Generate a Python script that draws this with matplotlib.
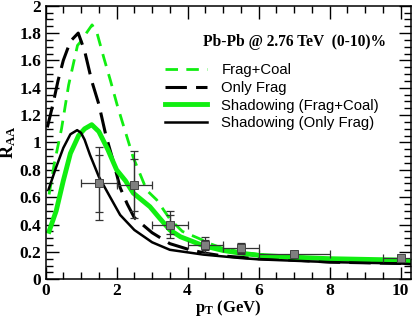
import numpy as np
import matplotlib
matplotlib.use('Agg')
import matplotlib.pyplot as plt
from matplotlib.ticker import MultipleLocator

plt.rcParams['font.family'] = 'Liberation Serif'
plt.rcParams['mathtext.fontset'] = 'custom'
plt.rcParams['mathtext.rm'] = 'Liberation Serif:bold'
plt.rcParams['mathtext.it'] = 'Liberation Serif:bold'
plt.rcParams['mathtext.bf'] = 'Liberation Serif:bold'

# model curves
fc_x = [0.1, 0.25, 0.45, 0.65, 0.9, 1.0, 1.15, 1.31, 1.45, 1.64, 1.83, 2.01, 2.15, 2.47, 2.85, 3.13, 3.5, 3.85, 4.3, 4.63, 5.0, 5.5, 6.0, 7.0, 8.0, 9.0, 10.0, 10.3]
fc_y = [0.62, 0.85, 1.10, 1.42, 1.71, 1.74, 1.80, 1.86, 1.80, 1.62, 1.45, 1.28, 1.16, 0.89, 0.65, 0.58, 0.44, 0.35, 0.30, 0.26, 0.225, 0.20, 0.18, 0.165, 0.15, 0.145, 0.14, 0.135]

of_x = [0.05, 0.2, 0.35, 0.5, 0.7, 0.92, 1.1, 1.3, 1.5, 1.7, 1.9, 2.1, 2.3, 2.5, 3.0, 3.5, 4.0, 4.5, 5.0, 6.0, 7.0, 8.0, 9.0, 10.0, 10.3]
of_y = [1.11, 1.27, 1.45, 1.60, 1.74, 1.80, 1.67, 1.45, 1.28, 1.05, 0.87, 0.67, 0.55, 0.45, 0.34, 0.26, 0.22, 0.19, 0.17, 0.15, 0.14, 0.125, 0.12, 0.115, 0.11]

sfc_x = [0.1, 0.3, 0.5, 0.7, 0.93, 1.1, 1.3, 1.5, 1.75, 2.0, 2.25, 2.47, 2.94, 3.2, 3.5, 3.8, 4.1, 4.44, 5.0, 5.5, 6.0, 7.0, 8.0, 9.0, 10.0, 10.3]
sfc_y = [0.35, 0.50, 0.72, 0.92, 1.05, 1.10, 1.13, 1.08, 0.95, 0.80, 0.72, 0.63, 0.53, 0.45, 0.36, 0.31, 0.28, 0.245, 0.21, 0.19, 0.175, 0.16, 0.15, 0.145, 0.14, 0.13]

sof_x = [0.09, 0.3, 0.5, 0.7, 0.89, 1.0, 1.1, 1.25, 1.5, 1.82, 2.1, 2.5, 3.0, 3.5, 4.44, 5.48, 6.0, 7.0, 8.0, 9.0, 10.0, 10.3]
sof_y = [0.66, 0.82, 0.96, 1.06, 1.09, 1.07, 1.02, 0.91, 0.75, 0.60, 0.47, 0.36, 0.27, 0.215, 0.18, 0.155, 0.145, 0.135, 0.125, 0.12, 0.115, 0.11]

# data points
data_x = [1.5, 2.5, 3.5, 4.5, 5.5, 7.0, 10.0]
data_y = [0.70, 0.69, 0.40, 0.25, 0.225, 0.185, 0.155]
data_xerr = [0.5, 0.5, 0.5, 0.5, 0.5, 1.0, 0.5]
data_err_tot = [0.27, 0.245, 0.10, 0.06, 0.04, 0.015, 0.02]
data_err_stat = [0.21, 0.19, 0.07, 0.04, 0.03, 0.01, 0.015]

green = '#11ee11'

fig = plt.figure(figsize=(4.14, 3.18), dpi=100)
ax = fig.add_axes([0.110, 0.122, 0.882, 0.860])

ax.plot(fc_x, fc_y, color=green, lw=2.0, dashes=(4.5, 3), label='Frag+Coal')
ax.plot(of_x, of_y, color='black', lw=2.2, dashes=(7, 3), label='Only Frag')
ax.plot(sfc_x, sfc_y, color=green, lw=3.5, label='Shadowing (Frag+Coal)')
ax.plot(sof_x, sof_y, color='black', lw=1.8, label='Shadowing (Only Frag)')

ax.errorbar(data_x, data_y, xerr=data_xerr, yerr=data_err_tot, fmt='none',
            ecolor='#333333', elinewidth=0.9, capsize=3, capthick=0.9, zorder=4)
ax.errorbar(data_x, data_y, yerr=data_err_stat, fmt='none',
            ecolor='#333333', elinewidth=0.9, capsize=3, capthick=0.9, zorder=4)
ax.plot(data_x, data_y, 's', ms=5.5, mfc='#7f7f7f', mec='#444444', mew=0.7, zorder=5)

ax.set_xlim(0, 10.28)
ax.set_ylim(0, 2)
ax.xaxis.set_major_locator(MultipleLocator(2))
ax.xaxis.set_minor_locator(MultipleLocator(0.5))
ax.yaxis.set_minor_locator(MultipleLocator(0.05))
ax.set_yticks(np.arange(0, 2.01, 0.2))
ax.set_yticklabels(['0', '0.2', '0.4', '0.6', '0.8', '1', '1.2', '1.4', '1.6', '1.8', '2'])
ax.tick_params(which='both', direction='in', top=True, right=True, width=1.0)
ax.tick_params(which='major', length=9, labelsize=12.5, pad=3)
ax.tick_params(which='minor', length=5)
for lab in ax.get_xticklabels() + ax.get_yticklabels():
    lab.set_fontweight('bold')
for sp in ax.spines.values():
    sp.set_linewidth(1.1)

ax.set_xlabel(r'$\mathrm{p_T}$ (GeV)', fontsize=12, fontweight='bold', labelpad=-1)
ax.set_ylabel(r'$\mathrm{R_{AA}}$', fontsize=13)
ax.yaxis.set_label_coords(-0.075, 0.5)

ax.text(0.431, 0.867, 'Pb-Pb @ 2.76 TeV  (0-10)%', transform=ax.transAxes,
        fontsize=11.2, fontweight='bold', va='center', ha='left')

leg = ax.legend(loc='upper left', bbox_to_anchor=(0.327, 0.79), frameon=False,
                borderpad=0, borderaxespad=0, handlelength=2.8, handletextpad=1.0,
                labelspacing=0.25, prop={'family': 'Liberation Sans', 'size': 10.7})

fig.savefig('out.png', dpi=100)
